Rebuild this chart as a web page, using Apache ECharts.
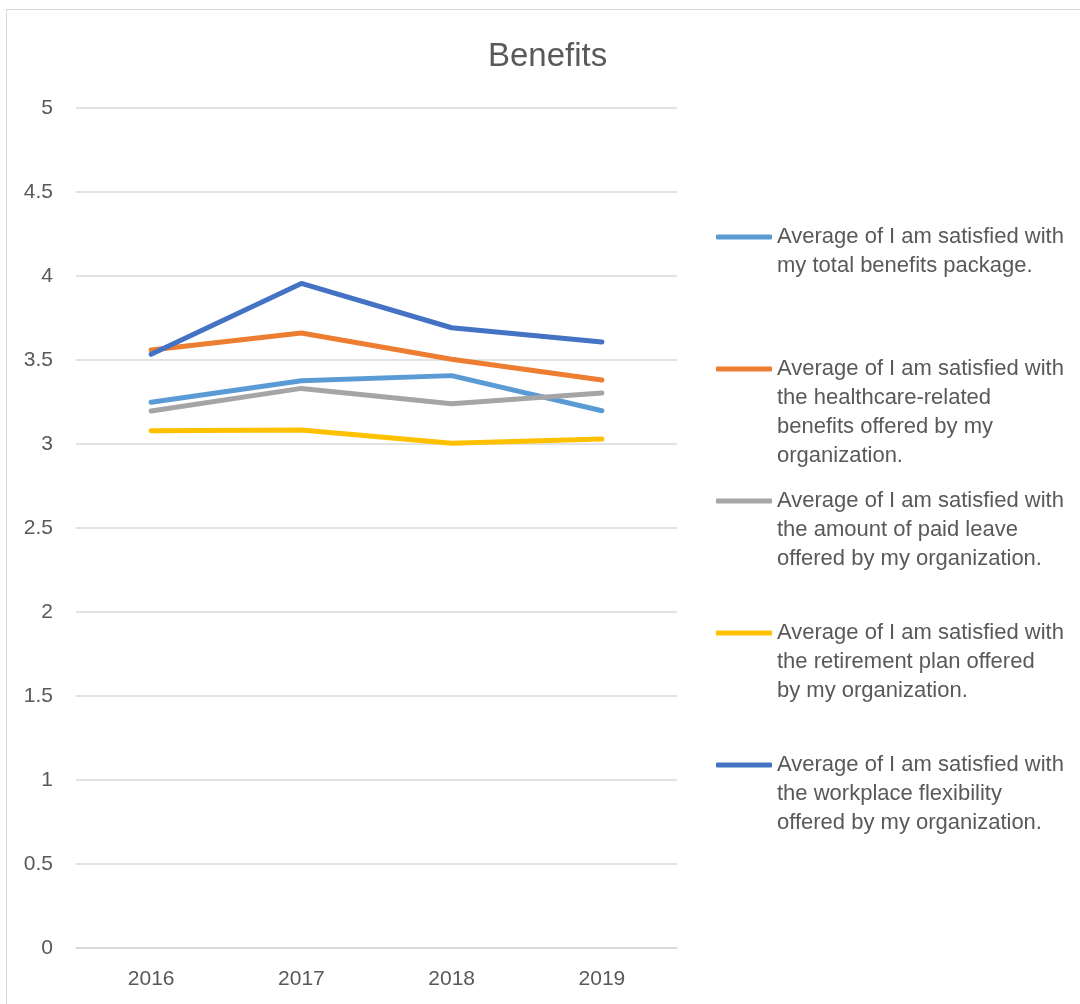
<!DOCTYPE html>
<html>
<head>
<meta charset="utf-8">
<script src="https://cdn.jsdelivr.net/npm/echarts@6/dist/echarts.min.js"></script>
<style>
html,body{margin:0;padding:0;background:#fff;}
#frame{position:absolute;left:6px;top:9px;width:1100px;height:1100px;border:1px solid #d9d9d9;box-sizing:border-box;}
#chart{position:absolute;left:0;top:0;width:1080px;height:1004px;}
</style>
</head>
<body>
<div id="frame"></div>
<div id="chart"></div>
<script>
const years = ['2016', '2017', '2018', '2019'];
const seriesNames = [
  'Average of I am satisfied with my total benefits package.',
  'Average of I am satisfied with the healthcare-related benefits offered by my organization.',
  'Average of I am satisfied with the amount of paid leave offered by my organization.',
  'Average of I am satisfied with the retirement plan offered by my organization.',
  'Average of I am satisfied with the workplace flexibility offered by my organization.'
];
const legendLines = [
  ['Average of I am satisfied with', 'my total benefits package.'],
  ['Average of I am satisfied with', 'the healthcare-related', 'benefits offered by my', 'organization.'],
  ['Average of I am satisfied with', 'the amount of paid leave', 'offered by my organization.'],
  ['Average of I am satisfied with', 'the retirement plan offered', 'by my organization.'],
  ['Average of I am satisfied with', 'the workplace flexibility', 'offered by my organization.']
];
const totalBenefits = [3.248, 3.377, 3.407, 3.198];
const healthcare    = [3.560, 3.661, 3.504, 3.381];
const paidLeave     = [3.196, 3.331, 3.240, 3.304];
const retirement    = [3.079, 3.083, 3.004, 3.030];
const flexibility   = [3.534, 3.956, 3.692, 3.607];
const yTicks = [0, 0.5, 1, 1.5, 2, 2.5, 3, 3.5, 4, 4.5, 5];

const values = [totalBenefits, healthcare, paidLeave, retirement, flexibility];
const colors = ['#5B9BD5', '#ED7D31', '#A5A5A5', '#FFC000', '#4472C4'];
const legendCenters = [237, 369, 501, 633, 765];
const LH = 29;
const textColor = '#595959';
const fontFamily = '"Liberation Sans", Arial, sans-serif';

const legends = seriesNames.map((name, i) => {
  const n = legendLines[i].length;
  return {
    data: [{ name: name, icon: 'roundRect', itemStyle: { color: colors[i] } }],
    orient: 'vertical',
    left: 716,
    top: legendCenters[i] - (2 * n - 1) * LH / 2,
    padding: 0,
    itemWidth: 56,
    itemHeight: 5,
    itemGap: 0,
    selectedMode: false,
    formatter: function () {
      return '\n'.repeat(n - 1) + legendLines[i].join('\n');
    },
    textStyle: { color: textColor, fontSize: 22, lineHeight: LH, fontFamily: fontFamily, padding: 0 }
  };
});

const chart = echarts.init(document.getElementById('chart'), null, { renderer: 'canvas' });
chart.setOption({
  animation: false,
  backgroundColor: 'transparent',
  title: {
    text: 'Benefits',
    left: 488,
    top: 40,
    padding: 0,
    textStyle: { color: textColor, fontSize: 33, fontWeight: 'normal', fontFamily: fontFamily }
  },
  legend: legends,
  grid: { left: 76, right: 403, top: 108, bottom: 56, containLabel: false },
  xAxis: {
    type: 'category',
    data: years,
    boundaryGap: true,
    axisLine: { show: true, lineStyle: { color: '#d9d9d9', width: 1.5 } },
    axisTick: { show: false },
    axisLabel: { color: textColor, fontSize: 21, fontFamily: fontFamily, margin: 21 }
  },
  yAxis: {
    type: 'value',
    min: 0,
    max: 5,
    interval: 0.5,
    axisLine: { show: false },
    axisTick: { show: false },
    splitLine: { lineStyle: { color: '#d9d9d9', width: 1.5 } },
    axisLabel: { color: textColor, fontSize: 21, fontFamily: fontFamily, margin: 23,
      formatter: function (v) { return yTicks.indexOf(v) >= 0 ? String(v) : ''; } }
  },
  series: seriesNames.map((name, i) => ({
    name: name,
    type: 'line',
    data: values[i],
    symbol: 'none',
    color: colors[i],
    lineStyle: { width: 5, color: colors[i], cap: 'round', join: 'round' }
  }))
});
</script>
</body>
</html>
